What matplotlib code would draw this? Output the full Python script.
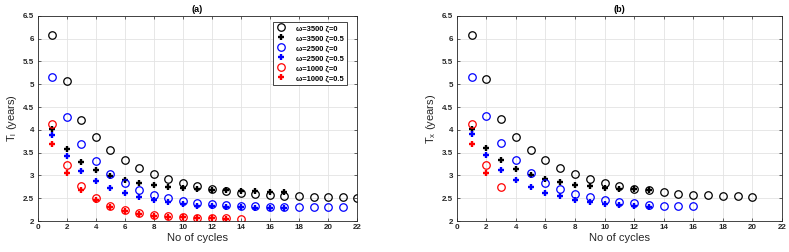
import matplotlib
matplotlib.use("Agg")
import matplotlib.pyplot as plt
import numpy as np

# Panel (a)
a_3500_z0 = [6.09, 5.08, 4.22, 3.84, 3.55, 3.33, 3.16, 3.03, 2.92, 2.83, 2.76, 2.70, 2.66, 2.62,
             2.59, 2.57, 2.55, 2.54, 2.53, 2.52, 2.52, 2.51]
a_3500_z5 = [4.01, 3.58, 3.30, 3.12, 2.99, 2.90, 2.83, 2.79, 2.75, 2.72, 2.70, 2.69, 2.67, 2.66,
             2.65, 2.64, 2.63]
a_2500_z0 = [5.17, 4.28, 3.70, 3.31, 3.03, 2.83, 2.69, 2.58, 2.50, 2.44, 2.40, 2.37, 2.35, 2.34,
             2.32, 2.31, 2.31, 2.31, 2.30, 2.30, 2.30]
a_2500_z5 = [3.89, 3.42, 3.10, 2.88, 2.73, 2.62, 2.53, 2.46, 2.41, 2.37, 2.34, 2.33, 2.31, 2.30,
             2.29, 2.29, 2.28]
a_1000_z0 = [4.12, 3.22, 2.77, 2.50, 2.34, 2.24, 2.18, 2.14, 2.11, 2.09, 2.07, 2.07, 2.06, 2.05]
a_1000_z5 = [3.68, 3.05, 2.68, 2.45, 2.31, 2.22, 2.16, 2.12, 2.09, 2.08, 2.07, 2.06, 2.05]

# Panel (b)
b_3500_z0 = [6.09, 5.11, 4.23, 3.85, 3.55, 3.34, 3.17, 3.04, 2.93, 2.84, 2.77, 2.71, 2.67, 2.63,
             2.60, 2.58, 2.56, 2.55, 2.54, 2.53]
b_3500_z5 = [4.02, 3.61, 3.33, 3.14, 3.01, 2.92, 2.85, 2.80, 2.76, 2.73, 2.71, 2.70, 2.68]
b_2500_z0 = [5.17, 4.30, 3.72, 3.33, 3.05, 2.84, 2.70, 2.60, 2.52, 2.46, 2.42, 2.39, 2.36, 2.34,
             2.33, 2.32]
b_2500_z5 = [3.91, 3.45, 3.12, 2.89, 2.74, 2.62, 2.54, 2.47, 2.42, 2.38, 2.35, 2.33, 2.31]
b_1000_z0 = [4.13, 3.22, 2.75]
b_1000_z5 = [3.68, 3.05]

labels = ["ω=3500 ζ=0", "ω=3500 ζ=0.5",
          "ω=2500 ζ=0", "ω=2500 ζ=0.5",
          "ω=1000 ζ=0", "ω=1000 ζ=0.5"]
colors = ["black", "black", "#0000ff", "#0000ff", "#ff0000", "#ff0000"]
markers = ["o", "+", "o", "+", "o", "+"]

xticks = [0, 2, 4, 6, 8, 10, 12, 14, 16, 18, 20, 22]
yticks = [2, 2.5, 3, 3.5, 4, 4.5, 5, 5.5, 6, 6.5]

plt.rcParams['font.family'] = ['Liberation Sans', 'DejaVu Sans']
plt.rcParams['mathtext.fontset'] = 'dejavusans'

fig = plt.figure(figsize=(7.89, 2.52), dpi=100)
ax1 = fig.add_axes([0.048, 0.123, 0.4045, 0.814])
ax2 = fig.add_axes([0.579, 0.123, 0.412, 0.814])

def draw(ax, series, title, ylabel, legend):
    for s, lab, c, m in zip(series, labels, colors, markers):
        x = np.arange(1, len(s) + 1)
        if m == "o":
            ax.plot(x, s, linestyle="none", marker="o", ms=5.4, mfc="none", mec=c, mew=0.9, label=lab)
        else:
            ax.plot(x, s, linestyle="none", marker="+", ms=4.4, mec=c, mew=1.7, label=lab)
    ax.set_xlim(0, 22)
    ax.set_ylim(2, 6.5)
    ax.set_xticks(xticks)
    ax.set_yticks(yticks)
    ax.set_xticklabels([("%g" % v) for v in xticks], fontweight="bold")
    ax.set_yticklabels([("%g" % v) for v in yticks], fontweight="bold")
    ax.grid(True, color="#e3e3e3", linewidth=0.6)
    ax.set_axisbelow(True)
    ax.tick_params(direction="in", length=2.5, width=0.5, labelsize=5.8, colors="#262626",
                   top=True, right=True, pad=2.5)
    for sp in ax.spines.values():
        sp.set_linewidth(0.6)
        sp.set_color("#262626")
    ax.set_title(title, fontsize=6.5, fontweight="bold", pad=3)
    ax.set_xlabel("No of cycles", fontsize=8, labelpad=1, color="#262626")
    ax.set_ylabel(ylabel, fontsize=8, labelpad=3, color="#262626")
    if legend:
        leg = ax.legend(loc="upper right", prop={"size": 5.4, "weight": "bold",
                                                 "family": ["Liberation Sans", "DejaVu Sans"]},
                        frameon=True, fancybox=False, edgecolor="#262626", framealpha=1,
                        borderpad=0.4, labelspacing=0.36, handletextpad=1.3, handlelength=1.4,
                        bbox_to_anchor=(0.98, 0.99))
        leg.get_frame().set_linewidth(0.6)

draw(ax1, [a_3500_z0, a_3500_z5, a_2500_z0, a_2500_z5, a_1000_z0, a_1000_z5],
     "(a)", r"T$_\mathregular{l}$ (years)", True)
draw(ax2, [b_3500_z0, b_3500_z5, b_2500_z0, b_2500_z5, b_1000_z0, b_1000_z5],
     "(b)", r"T$_\mathregular{x}$ (years)", False)

fig.savefig("out.png", dpi=100)
